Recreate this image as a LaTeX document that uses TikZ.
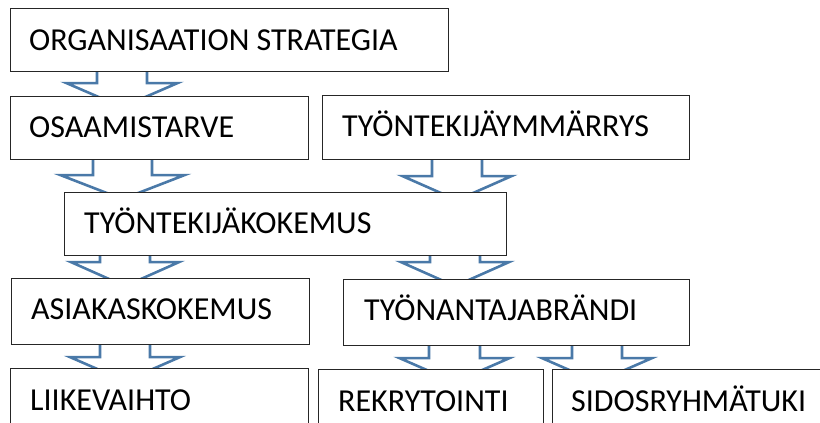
\documentclass[tikz,border=0pt]{standalone}
\usepackage{fontspec}
\setmainfont{Carlito}
\usetikzlibrary{calc}
\pgfdeclarelayer{background}
\pgfsetlayers{background,main}
\definecolor{arrowblue}{RGB}{74,121,168}
\tikzset{
  box/.style={draw=black!85, line width=1.1pt, fill=white, rectangle, anchor=north west, inner sep=0pt},
  lbl/.style={font=\fontsize{32}{36}\selectfont, inner sep=0pt, anchor=base west},
  blockarrow/.style={draw=arrowblue, line width=2.6pt, fill=white, line join=miter}
}
% #1 source, #2 target, #3 centre x, #4 shaft half width, #5 head half width, #6 drop of head below source
\newcommand\bigarrow[6]{%
  \path let \p1=(#1.south), \p2=(#2.north) in
    [blockarrow] ({(#3-#4)*1pt},{\y1+4pt}) -- ({(#3-#4)*1pt},{\y1-#6pt})
    -- ({(#3-#5)*1pt},{\y1-#6pt}) -- ({#3*1pt},{\y1-#6pt-24pt})
    -- ({(#3+#5)*1pt},{\y1-#6pt}) -- ({(#3+#4)*1pt},{\y1-#6pt})
    -- ({(#3+#4)*1pt},{\y1+4pt}) -- cycle;
}
\begin{document}
\begin{tikzpicture}[x=1pt,y=1pt]
\useasboundingbox (0,0) rectangle (820,-423);
\begin{scope}
\clip (0,0) rectangle (820,-423);
\node[box, minimum width=438pt, minimum height=63pt] (org) at (10,-8) {};
\node[box, minimum width=298pt, minimum height=63pt] (osa) at (10,-96) {};
\node[box, minimum width=367pt, minimum height=64pt] (tym) at (322,-95) {};
\node[box, minimum width=442pt, minimum height=63pt] (tkk) at (64,-192) {};
\node[box, minimum width=298pt, minimum height=66pt] (asi) at (11,-278) {};
\node[box, minimum width=346pt, minimum height=66pt] (tan) at (343,-279) {};
\node[box, minimum width=298pt, minimum height=72pt] (lii) at (10,-368) {};
\node[box, minimum width=225pt, minimum height=71pt] (rek) at (318,-369) {};
\node[box, minimum width=278pt, minimum height=71pt] (sid) at (552,-369) {};

\node[lbl] (orgt) at (29,-50) {ORGANISAATION STRATEGIA};
\node[lbl] (osat) at (29,-137) {OSAAMISTARVE};
\node[lbl] (tymt) at (342,-136) {TYÖNTEKIJÄYMMÄRRYS};
\node[lbl] (tkkt) at (84,-233) {TYÖNTEKIJÄKOKEMUS};
\node[lbl] (asit) at (31,-319) {ASIAKASKOKEMUS};
\node[lbl] (tant) at (364,-320) {TYÖNANTAJABRÄNDI};
\node[lbl] (liit) at (30,-410) {LIIKEVAIHTO};
\node[lbl] (rekt) at (338,-411) {REKRYTOINTI};
\node[lbl] (sidt) at (571,-411) {SIDOSRYHMÄTUKI};
\end{scope}
\begin{pgfonlayer}{background}
\bigarrow{org}{osa}{122}{25}{55.5}{11}
\bigarrow{osa}{tkk}{122.5}{29.5}{62}{15}
\bigarrow{tym}{tkk}{457}{25}{54.5}{16}
\bigarrow{tkk}{asi}{125}{25}{54}{6}
\bigarrow{tkk}{tan}{455}{25}{54}{6}
\bigarrow{asi}{lii}{125}{25}{55}{12}
\bigarrow{tan}{rek}{454.5}{25.5}{55}{12}
\bigarrow{tan}{sid}{597}{25}{55}{12}
\end{pgfonlayer}
\end{tikzpicture}
\end{document}
